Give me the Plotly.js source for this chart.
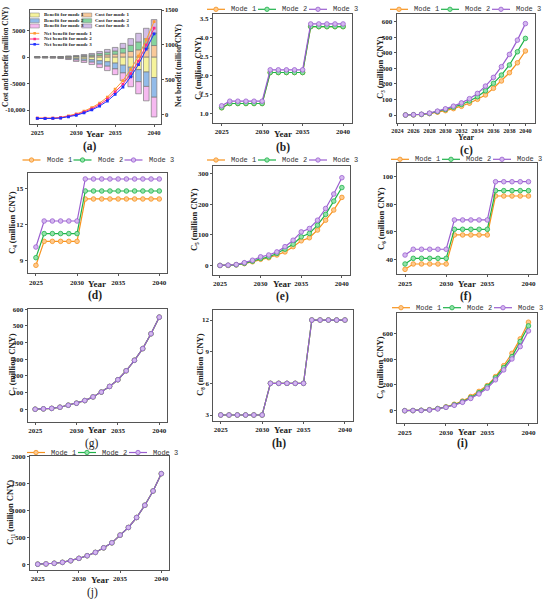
<!DOCTYPE html>
<html><head><meta charset="utf-8">
<script src="https://cdn.plot.ly/plotly-3.0.1.min.js"></script>
<style>html,body{margin:0;padding:0;background:#fff}#chart{width:550px;height:601px}</style>
</head><body><div id="chart"></div>
<script>
// ---------------- data ----------------
const years = [2025,2026,2027,2028,2029,2030,2031,2032,2033,2034,2035,2036,2037,2038,2039,2040];
const xTicks5 = [2025,2030,2035,2040];
const xTicks2 = [2024,2026,2028,2030,2032,2034,2036,2038,2040];
const modeNames = ['Mode 1','Mode 2','Mode 3'];

// (a) cost / benefit bars and net benefit
const costMode1 = [31,31,34,40,71,99,158,217,335,453,570,806,1085,1395,1690,2200];
const costMode2 = [33,33,36,43,76,106,168,231,356,482,607,858,1155,1485,1800,2340];
const costMode3 = [36,36,40,47,83,115,184,252,389,525,663,936,1260,1620,1960,2550];
const benefitMode1 = [-51,-51,-58,-85,-150,-272,-340,-473,-666,-860,-1119,-1506,-1894,-2346,-2798,-3830];
const benefitMode2 = [-50,-50,-56,-83,-145,-264,-330,-459,-647,-835,-1086,-1462,-1838,-2277,-2716,-3720];
const benefitMode3 = [-49,-49,-56,-82,-145,-264,-330,-458,-647,-835,-1085,-1462,-1838,-2277,-2716,-3720];
const netMode1 = [-45,-47,-45,-35,-15,15,55,105,170,255,370,490,650,840,1075,1335];
const netMode2 = [-47,-49,-47,-40,-22,5,42,88,148,225,330,440,590,770,1000,1240];
const netMode3 = [-50,-52,-50,-44,-28,-4,30,72,127,200,295,400,545,720,940,1160];
const aLeftTicks = [-10000,-5000,0,5000];
const aLeftTickText = ['-10,000','-5000','0','5000'];
const aRightTicks = [0,500,1000,1500];
const aBarNames = ['Cost for mode 1','Cost for mode 2','Cost for mode 3','Benefit for mode 1','Benefit for mode 2','Benefit for mode 3'];
const aNetNames = ['Net benefit for mode 1','Net benefit for mode 2','Net benefit for mode 3'];

// (b) C2
const c2Mode1 = [1.16,1.27,1.27,1.27,1.27,1.27,2.08,2.08,2.08,2.08,2.08,3.28,3.28,3.28,3.28,3.28];
const c2Mode2 = [1.16,1.27,1.27,1.27,1.27,1.27,2.08,2.08,2.08,2.08,2.08,3.28,3.28,3.28,3.28,3.28];
const c2Mode3 = [1.21,1.33,1.33,1.33,1.33,1.33,2.15,2.15,2.15,2.15,2.15,3.35,3.35,3.35,3.35,3.35];
const c2Ticks = [1.0,1.5,2.0,2.5,3.0,3.5];
// (c) C3
const c3Mode1 = [0,1,3.5,9,18,28,41,56,76,101,129,172,219,272,336,412];
const c3Mode2 = [0,1.5,4,10,22,35,50,68,90,118,156,204,257,322,407,493];
const c3Mode3 = [0,2,5,12,25,40,57,78,105,139,186,242,311,390,482,588];
const c3Ticks = [0,100,200,300,400,500,600];
// (d) C4
const c4Mode1 = [8.64,10.62,10.62,10.62,10.62,10.62,14.12,14.12,14.12,14.12,14.12,14.12,14.12,14.12,14.12,14.12];
const c4Mode2 = [9.27,11.26,11.26,11.26,11.26,11.26,14.78,14.78,14.78,14.78,14.78,14.78,14.78,14.78,14.78,14.78];
const c4Mode3 = [10.15,12.3,12.3,12.3,12.3,12.3,15.77,15.77,15.77,15.77,15.77,15.77,15.77,15.77,15.77,15.77];
const c4Ticks = [9,12,15];
// (e) C5
const c5Mode1 = [1,1,3,7,13,21,26,35,45,62,81,91,116,148,181,222];
const c5Mode2 = [1,1.5,3,8,15,24,29,40,54,70,94,105,132,167,210,254];
const c5Mode3 = [1,2,4,10,18,29,35,45,62,83,110,121,148,186,233,286];
const c5Ticks = [0,100,200,300];
// (f) C6
const c6Mode1 = [32.7,36.6,36.6,36.6,36.6,36.6,57.7,57.7,57.7,57.7,57.7,86,86,86,86,86];
const c6Mode2 = [36.6,40.7,40.7,40.7,40.7,40.7,61.8,61.8,61.8,61.8,61.8,89.9,89.9,89.9,89.9,89.9];
const c6Mode3 = [43.1,47.3,47.3,47.3,47.3,47.3,68.6,68.6,68.6,68.6,68.6,96.4,96.4,96.4,96.4,96.4];
const c6Ticks = [40,60,80,100];
// (g) C7 (identical for all modes)
const c7 = [0,2,5,12,24,36,52,74,103,137,177,231,294,364,453,553];
const c7Ticks = [0,100,200,300,400,500,600];
// (h) C8 (identical for all modes)
const c8 = [3,3,3,3,3,3,6,6,6,6,6,12,12,12,12,12];
const c8Ticks = [3,6,9,12];
// (i) C9
const c9Mode1 = [0,1,3,8,17,30,50,75,110,150,195,265,350,446,558,688];
const c9Mode2 = [0,1,3,7,16,28,46,70,102,140,188,255,335,420,537,659];
const c9Mode3 = [0,1,2,6,14,26,42,65,95,130,175,240,317,402,498,620];
const c9Ticks = [0,200,400,600];
// (j) C11 (identical for all modes)
const c11 = [3,8,20,37,67,111,160,222,307,400,543,685,870,1098,1363,1685];
const c11Ticks = [0,500,1000,1500,2000];

// ---------------- styling ----------------
const W = 550, H = 601;
const SERIF = 'Liberation Serif, Times New Roman, serif';
const MONO = 'Liberation Mono, Courier New, monospace';
const modeStyle = [
  {line:'#f7931e', fill:'#fdc98f'},
  {line:'#1fb24a', fill:'#92e2a9'},
  {line:'#9b5fd0', fill:'#d4b8ef'}
];
const barStyle = ['#f9c99a','#86d49e','#d2bde6','#f6f39c','#92bbe9','#f6b9f0'];
const netStyle = ['#ff9933','#ff2a80','#1f2fff'];

function px2x(p){return p/W;}
function py2y(p){return 1-p/H;}
function dom(b){return {x:[b[0]/W,b[2]/W], y:[1-b[3]/H,1-b[1]/H]};}

const tickFont = {family:SERIF, size:7, color:'#222', weight:'bold'};
const titleFont = {family:SERIF, size:8.5, color:'#222', weight:'bold'};
const yearFont = {family:SERIF, size:9, color:'#222', weight:'bold'};

function baseAxis(){
  return {showline:true, mirror:true, linecolor:'#555', linewidth:1, ticks:'outside', ticklen:2,
          tickwidth:1, tickcolor:'#555', showgrid:false, zeroline:false, tickfont:tickFont,
          tickmode:'array', tickangle:0, fixedrange:true};
}

const panels = [
  {n:2, box:[213,14,352,123], xr:[2023.93,2041.1], yr:[0.76,3.61], xt:xTicks5, yt:c2Ticks, yfmt:'.1f', title:'C₂ (million CNY)', tx:198, ty:69, yy:133.5, series:[c2Mode1,c2Mode2,c2Mode3]},
  {n:3, box:[396.7,14,535,122.7], xr:[2023.9,2041.2], yr:[-49.5,650], xt:xTicks2, xfs:6.2, yt:c3Ticks, title:'C₃ (million CNY)', tx:380, ty:68, yy:137.9, yfs:8, series:[c3Mode1,c3Mode2,c3Mode3]},
  {n:4, box:[27.7,173.3,166.7,273.3], xr:[2024.0,2040.9], yr:[7.98,16.24], xt:xTicks5, yt:c4Ticks, title:'C₄ (million CNY)', tx:12, ty:223, yy:283.5, series:[c4Mode1,c4Mode2,c4Mode3]},
  {n:5, box:[213,165.7,350,275], xr:[2024.14,2041], yr:[-30,325], xt:xTicks5, yt:c5Ticks, title:'C₅ (million CNY)', tx:194, ty:220, yy:284, series:[c5Mode1,c5Mode2,c5Mode3]},
  {n:6, box:[397.3,163,536.7,274.3], xr:[2024.06,2041], yr:[29.1,110], xt:xTicks5, yt:c6Ticks, title:'C₆ (million CNY)', tx:381, ty:219, yy:283.5, series:[c6Mode1,c6Mode2,c6Mode3]},
  {n:7, box:[27.7,309,166.7,421.7], xr:[2024.1,2040.9], yr:[-75,602], xt:xTicks5, yt:c7Ticks, title:'C₇ (million CNY)', tx:12, ty:365, yy:430, series:[c7,c7,c7]},
  {n:8, box:[213.3,310,352.7,420.7], xr:[2024.1,2040.94], yr:[2.46,12.95], xt:xTicks5, yt:c8Ticks, title:'C₈ (million CNY)', tx:200, ty:365, yy:430, series:[c8,c8,c8]},
  {n:9, box:[397.3,313.3,536.7,423.3], xr:[2024.1,2041], yr:[-98,757], xt:xTicks5, yt:c9Ticks, title:'C₉ (million CNY)', tx:380, ty:368, yy:432, series:[c9Mode1,c9Mode2,c9Mode3]},
  {n:10, box:[30,456,169.3,570], xr:[2024.06,2040.97], yr:[-105,2013], xt:xTicks5, yt:c11Ticks, title:'C₁₁ (million CNY)', tx:10, ty:513, yy:579.5, series:[c11,c11,c11]}
];

const data = [];
const layout = {
  width:W, height:H, margin:{l:0,r:0,t:0,b:0}, paper_bgcolor:'#fff', plot_bgcolor:'#fff',
  showlegend:false, barmode:'relative', font:{family:SERIF, color:'#222'},
  shapes:[], annotations:[]
};
function addText(text, x, y, font, extra){
  layout.annotations.push(Object.assign({text:text, x:px2x(x), y:py2y(y), xref:'paper', yref:'paper',
    showarrow:false, xanchor:'center', yanchor:'middle', font:font}, extra||{}));
}

// ---- panel (a) ----
const boxA = [29.5,10,160.7,124];
const dA = dom(boxA);
const tickFontA = Object.assign({}, tickFont, {size:6.5});
layout.xaxis = Object.assign(baseAxis(), {domain:dA.x, anchor:'y', range:[2024.0,2040.85], tickvals:xTicks5, tickfont:tickFontA});
layout.yaxis = Object.assign(baseAxis(), {domain:dA.y, anchor:'x', range:[-12600,8900], tickvals:aLeftTicks,
  ticktext:aLeftTickText, tickfont:tickFontA});
layout.yaxis11 = Object.assign(baseAxis(), {domain:dA.y, anchor:'x', overlaying:'y', side:'right', range:[-129,1500],
  tickvals:aRightTicks, mirror:false, tickfont:tickFontA});

const barSeries = [costMode1,costMode2,costMode3,benefitMode1,benefitMode2,benefitMode3];
barSeries.forEach((s,i)=>{
  data.push({type:'bar', name:aBarNames[i], x:years, y:s, xaxis:'x', yaxis:'y', width:0.72,
    marker:{color:barStyle[i], line:{color:'#7a7a7a', width:0.7}}, hoverinfo:'skip'});
});
[netMode1,netMode2,netMode3].forEach((s,i)=>{
  data.push({type:'scatter', mode:'lines+markers', name:aNetNames[i], x:years, y:s, xaxis:'x', yaxis:'y11',
    line:{color:netStyle[i], width:1}, marker:{symbol:'square', size:2.8, color:netStyle[i]}, hoverinfo:'skip'});
});
const titleFontA = Object.assign({}, titleFont, {size:7.5});
addText('Cost and benefit (million CNY)', 5, 57, titleFontA, {textangle:-90});
addText('Net benefit (million CNY)', 178, 66, titleFontA, {textangle:-90});
addText('Year', 95, 133.5, yearFont);

// (a) legend
const legFontA = {family:SERIF, size:5, color:'#222', weight:'bold'};
const legRowsA = [15,20.7,26];
const benefitIdx = [3,4,5], costIdx = [0,1,2];
legRowsA.forEach((ry,k)=>{
  [[30,39.3,41.7,benefitIdx[k]],[81.7,91.7,93.3,costIdx[k]]].forEach(c=>{
    layout.shapes.push({type:'rect', xref:'paper', yref:'paper', x0:px2x(c[0]), x1:px2x(c[1]), y0:py2y(ry+2), y1:py2y(ry-2),
      fillcolor:barStyle[c[3]], line:{color:'#7a7a7a', width:0.5}});
    addText(aBarNames[c[3]], c[2], ry, legFontA, {xanchor:'left'});
  });
});
[33.3,39,44.3].forEach((ry,k)=>{
  layout.shapes.push({type:'line', xref:'paper', yref:'paper', x0:px2x(30), x1:px2x(39.3), y0:py2y(ry), y1:py2y(ry),
    line:{color:netStyle[k], width:1}});
  layout.shapes.push({type:'rect', xref:'paper', yref:'paper', x0:px2x(33.4), x1:px2x(35.9), y0:py2y(ry+1.25), y1:py2y(ry-1.25),
    fillcolor:netStyle[k], line:{width:0}});
  addText(aNetNames[k], 41.7, ry, legFontA, {xanchor:'left'});
});

// ---- panels (b)-(j) ----
panels.forEach(p=>{
  const d = dom(p.box);
  const xa = Object.assign(baseAxis(), {domain:d.x, anchor:'y'+p.n, range:p.xr, tickvals:p.xt});
  if(p.xfs) xa.tickfont = Object.assign({}, tickFont, {size:p.xfs});
  const ya = Object.assign(baseAxis(), {domain:d.y, anchor:'x'+p.n, range:p.yr, tickvals:p.yt});
  if(p.yfmt) ya.tickformat = p.yfmt;
  layout['xaxis'+p.n] = xa;
  layout['yaxis'+p.n] = ya;
  addText(p.title, p.tx, p.ty, titleFont, {textangle:-90});
  addText('Year', (p.box[0]+p.box[2])/2, p.yy, p.yfs ? Object.assign({}, yearFont, {size:p.yfs}) : yearFont);
  p.series.forEach((s,i)=>{
    data.push({type:'scatter', mode:'lines+markers', name:modeNames[i], x:years, y:s, xaxis:'x'+p.n, yaxis:'y'+p.n,
      line:{color:modeStyle[i].line, width:1.2},
      marker:{symbol:'circle', size:4.6, color:modeStyle[i].fill, line:{color:modeStyle[i].line, width:0.8}},
      hoverinfo:'skip'});
  });
});

// mode legends (drawn as layout items above panels)
const legFont = {family:MONO, size:7, color:'#333'};
const modeLegends = [[281,9.3],[464,9.3],[96.5,160],[281,160],[465,159.3],[466,307.7],[101,452.5]];
modeLegends.forEach(L=>{
  const s0 = L[0]-74, y = L[1];
  modeNames.forEach((nm,i)=>{
    const s = s0 + i*51;
    layout.shapes.push({type:'line', xref:'paper', yref:'paper', x0:px2x(s), x1:px2x(s+18), y0:py2y(y), y1:py2y(y),
      line:{color:modeStyle[i].line, width:1.2}});
    layout.shapes.push({type:'circle', xref:'paper', yref:'paper', x0:px2x(s+9-2.2), x1:px2x(s+9+2.2), y0:py2y(y+2.2), y1:py2y(y-2.2),
      fillcolor:modeStyle[i].fill, line:{color:modeStyle[i].line, width:0.8}});
    addText(nm, s+22, y, legFont, {xanchor:'left'});
  });
});

// panel labels
const panelLabels = [['(a)',90,146,'bold'],['(b)',283,147,'bold'],['(c)',466,150.5,'bold'],['(d)',95,295,'bold'],
  ['(e)',282,296,'bold'],['(f)',466,296,'bold'],['(g)',92,443,'normal'],['(h)',279,443,'bold'],['(i)',462,443,'bold'],['(j)',92,592,'normal']];
panelLabels.forEach(l=>{
  addText(l[0], l[1], l[2], {family:SERIF, size:11.5, color:'#222', weight:l[3]});
});

Plotly.newPlot('chart', data, layout, {staticPlot:true, displayModeBar:false});
</script>
</body></html>
